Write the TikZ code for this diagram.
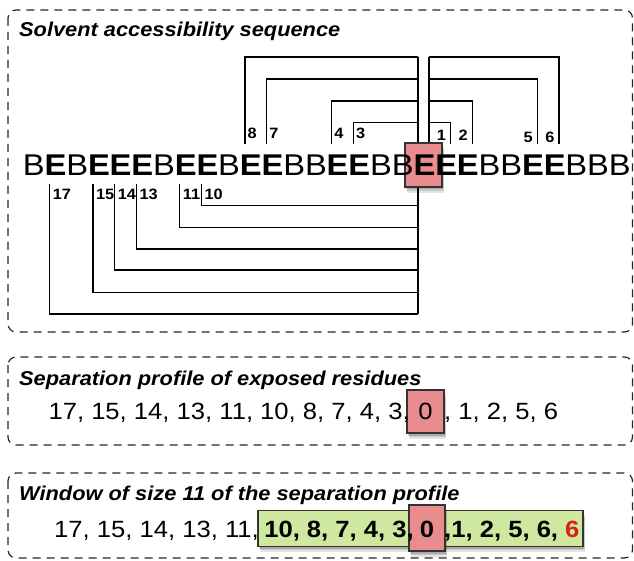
\documentclass[tikz,border=0pt]{standalone}
\usepackage{fontspec}
\setmainfont[FakeStretch=1.09]{Liberation Sans}
\usetikzlibrary{calc}
\definecolor{redfill}{RGB}{232,140,142}
\definecolor{greenfill}{RGB}{206,232,160}
\definecolor{redsix}{RGB}{212,36,20}
\newcommand\mySeqB{\mdseries}
\newcommand\mySeqE{\bfseries}
\begin{document}
\begin{tikzpicture}[x=1pt,y=-1pt,
  dbox/.style={draw=black!85, line width=1.2pt, dash pattern=on 8pt off 6pt, rounded corners=8pt},
  conn/.style={line width=1.4pt, draw=black},
  lab/.style={inner sep=0pt, font=\fontsize{15}{18}\selectfont\bfseries},
  seqch/.style={inner sep=0pt, anchor=base, font=\fontsize{30}{36}\selectfont},
  ttl/.style={inner sep=0pt, anchor=base west, font=\fontsize{20}{24}\selectfont\bfseries\itshape},
  num/.style={inner sep=0pt, font=\fontsize{23.5}{28}\selectfont},
  bnum/.style={inner sep=0pt, font=\fontsize{23.5}{28}\selectfont\bfseries},
  softshadow/.style={
    preaction={fill=black, opacity=0.10, transform canvas={xshift=2pt,yshift=-6pt}},
    preaction={fill=black, opacity=0.12, transform canvas={xshift=1.5pt,yshift=-4pt}},
    preaction={fill=black, opacity=0.15, transform canvas={xshift=1pt,yshift=-2.5pt}}},
  redbox/.style={draw=black!80, line width=1.1pt, fill=redfill, softshadow, inner sep=0pt},
  greenbox/.style={draw=black!80, line width=1.1pt, fill=greenfill, softshadow, inner sep=0pt}
]
\useasboundingbox (0,0) rectangle (634,561);

% panels
\draw[dbox] (8,10) rectangle (632.5,332);
\draw[dbox] (8,357) rectangle (632.5,445);
\draw[dbox] (8,473) rectangle (632.5,558);

\node[ttl] (t1) at (19,37) {Solvent accessibility sequence};
\node[ttl] (t2) at (19,385) {Separation profile of exposed residues};
\node[ttl] (t3) at (19,500) {Window of size 11 of the separation profile};

% letter positions
\foreach \ch [count=\i from 0] in {B,E,B,E,E,E,B,E,E,B,E,E,B,B,E,E,B,B,E,E,E,B,B,E,E,B,B,B}
  \coordinate (s\i) at ({23+21.7*(\i+0.5)},176);

% trunks
\draw[conn] ($(s18)+(-6.4,-119)$) -- ($(s18)+(-6.4,138)$);
\draw[conn] ($(s18)+(4.5,-119)$) -- ($(s18)+(4.5,-16)$);

% upper left connectors
\foreach \k/\y/\l in {10/-119/8, 11/-97/7, 14/-75/4, 15/-53.3/3}{
  \draw[conn] ($(s\k)+(-6,-32)$) |- ($(s18)+(-6.4,\y)$);
  \node[lab, anchor=base west] (lu\l) at ($(s\k)+(-3.5,-37)$) {\l};
}
% upper right connectors
\foreach \k/\y/\l/\b in {19/-53.3/1/-35, 20/-75/2/-35, 23/-97/5/-33, 24/-119/6/-33}{
  \draw[conn] ($(s\k)+(4.5,-32)$) |- ($(s18)+(4.5,\y)$);
  \node[lab, anchor=base east] (ru\l) at ($(s\k)+(0,\b)$) {\l};
}
% lower connectors
\foreach \k/\y/\l in {1/138/17, 3/116.3/15, 4/94/14, 5/73/13, 7/51.3/11, 8/29.7/10}{
  \draw[conn] ($(s\k)+(-6,8)$) |- ($(s18)+(-6.4,\y)$);
  \node[lab, anchor=base west] (ld\l) at ($(s\k)+(-3,24)$) {\l};
}

% highlight box
\node[redbox, minimum width=37pt, minimum height=44pt] (hl) at (423.5,165) {};

\foreach \ch [count=\i from 0] in {B,E,B,E,E,E,B,E,E,B,E,E,B,B,E,E,B,B,E,E,E,B,B,E,E,B,B,B}
  \node[seqch] (c\i) at (s\i) {\csname mySeq\ch\endcsname\ch};

% separation profile
\node[redbox, minimum width=37pt, minimum height=43pt] (z2) at (425.5,411.5) {};
\node[num, anchor=base east] (p2l) at (410,419) {17, 15, 14, 13, 11, 10, 8, 7, 4, 3,};
\node[num, anchor=base] (p2z) at (425.5,419) {0};
\node[num, anchor=base west] (p2r) at (444,419) {, 1, 2, 5, 6};

% window
\node[greenbox, minimum width=325pt, minimum height=35.5pt] (g3) at (420.5,528.4) {};
\node[redbox, minimum width=36pt, minimum height=46pt] (z3) at (427,528) {};
\node[num, anchor=base east] (p3l) at (259,537) {17, 15, 14, 13, 11,};
\node[bnum, anchor=base east] (p3m) at (414,537) {10, 8, 7, 4, 3,};
\node[bnum, anchor=base] (p3z) at (427,537) {0};
\node[bnum, anchor=base west] (p3r) at (444,537) {,1, 2, 5, 6, \textcolor{redsix}{6}};
\end{tikzpicture}
\end{document}
